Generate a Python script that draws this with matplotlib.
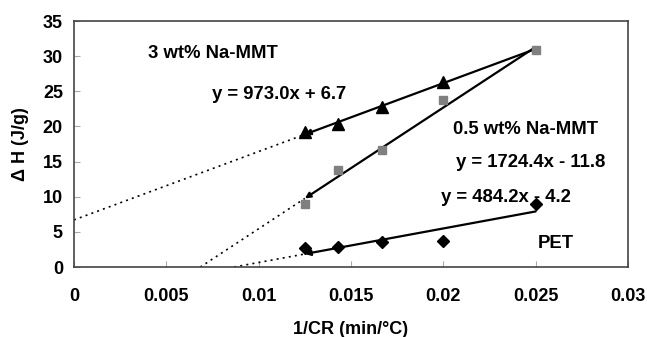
import numpy as np
import matplotlib
matplotlib.use("Agg")
import matplotlib.pyplot as plt

plt.rcParams['font.family'] = ['Liberation Sans', 'DejaVu Sans']
plt.rcParams['font.weight'] = 'bold'

# 1/CR values (cooling rates 80, 70, 60, 50, 40 °C/min)
inv_cr = [1 / 80, 1 / 70, 1 / 60, 1 / 50, 1 / 40]

# the 3 wt% point at 1/40 is hidden under the square in the original
dh_3wt = [19.2, 20.3, 22.8, 26.3]
dh_05wt = [8.9, 13.8, 16.6, 23.8, 30.9]
dh_pet = [2.65, 2.8, 3.6, 3.7, 9.0]

# linear fits as printed on the chart: (slope, intercept)
fit_3wt = (973.0, 6.7)
fit_05wt = (1724.4, -11.8)
fit_pet = (484.2, -4.2)

fig = plt.figure(figsize=(6.47, 3.37), dpi=100)
ax = fig.add_axes([74 / 647, 1 - 267 / 337, 554 / 647, 246 / 337])

x_lo, x_hi = inv_cr[0], inv_cr[-1]

for slope, icpt in (fit_3wt, fit_05wt, fit_pet):
    # dotted extrapolation back to the axis
    x0 = max(0.0, -icpt / slope)
    ax.plot([x0, x_lo], [slope * x0 + icpt, slope * x_lo + icpt],
            ls=(0, (1.2, 2.5)), color='black', lw=1.2, zorder=2)
    # solid fit line with arrow head at left end
    ax.annotate('', xy=(x_lo, slope * x_lo + icpt),
                xytext=(x_hi, slope * x_hi + icpt),
                arrowprops=dict(arrowstyle='-|>', color='black', lw=1.6,
                                mutation_scale=8, shrinkA=0, shrinkB=0),
                zorder=3)

ax.plot(inv_cr, dh_pet, 'D', color='black', ms=6.5, zorder=4)
ax.plot(inv_cr[:len(dh_3wt)], dh_3wt, '^', color='black', ms=8, zorder=4)
ax.plot(inv_cr, dh_05wt, 's', color='#808080', ms=5.5, zorder=5)

fs = 13
afs = 13.3
ax.text(0.0040, 30.4, '3 wt% Na-MMT', fontsize=afs, fontweight='bold', va='center')
ax.text(0.00747, 24.5, 'y = 973.0x + 6.7', fontsize=afs, fontweight='bold', va='center')
ax.text(0.0205, 19.5, '0.5 wt% Na-MMT', fontsize=afs, fontweight='bold', va='center')
ax.text(0.0207, 14.9, 'y = 1724.4x - 11.8', fontsize=afs, fontweight='bold', va='center')
ax.text(0.0199, 9.9, 'y = 484.2x - 4.2', fontsize=afs, fontweight='bold', va='center')
ax.text(0.0251, 3.4, 'PET', fontsize=afs, fontweight='bold', va='center')

ax.set_xlim(0, 0.03)
ax.set_ylim(0, 35)
ax.set_xticks([0, 0.005, 0.01, 0.015, 0.02, 0.025, 0.03])
ax.set_xticklabels(['0', '0.005', '0.01', '0.015', '0.02', '0.025', '0.03'])
ax.set_yticks(range(0, 36, 5))
ax.tick_params(direction='in', length=4, color='#aaaaaa', labelsize=fs)
ax.tick_params(axis='x', pad=15)
ax.tick_params(axis='y', pad=8)
for lab in ax.get_xticklabels() + ax.get_yticklabels():
    lab.set_fontweight('bold')
for sp in ax.spines.values():
    sp.set_color('#444444')
    sp.set_linewidth(1.2)

ax.set_xlabel('1/CR (min/°C)', fontsize=fs, fontweight='bold', labelpad=12)
ax.set_ylabel('Δ H (J/g)', fontsize=fs, fontweight='bold', labelpad=10)

fig.savefig('out.png', dpi=100)
